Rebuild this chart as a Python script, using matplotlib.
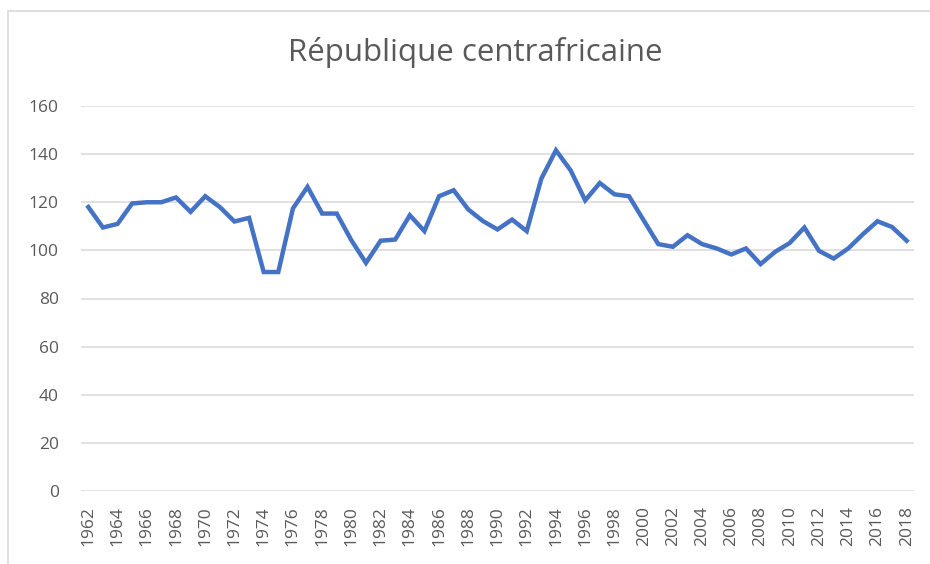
import matplotlib.pyplot as plt
from matplotlib.patches import Rectangle

plt.rcParams['font.family'] = ['Open Sans', 'DejaVu Sans']

# Years and values.
years = list(range(1962, 2019))
values = [
    118, 109.5, 111, 119.5, 120, 120, 122, 116, 122.5, 118,
    112, 113.5, 91, 91, 117.4, 126.4, 115.3, 115.3, 104.2, 94.8,
    104, 104.5, 114.6, 108, 122.5, 125, 117, 112.2, 108.7, 112.8,
    108, 129.8, 141.6, 133.3, 120.8, 128, 123.3, 122.5, 112.5, 102.6,
    101.5, 106.3, 102.6, 100.8, 98.3, 100.8, 94.3, 99.4, 103.1, 109.5,
    99.8, 96.6, 100.8, 106.7, 112.1, 109.7, 104,
]
y_ticks = [0, 20, 40, 60, 80, 100, 120, 140, 160]
x_ticks = years[::2]

figure = plt.figure(figsize=(9.3, 5.64), dpi=100)
axes = figure.add_axes([81 / 930, 1 - 491 / 564, 833 / 930, 385 / 564])

# Outer chart border (Excel style).
figure.patches.append(Rectangle((8 / 930, -0.1), 1.2, 1 - 11 / 564 + 0.1,
                                transform=figure.transFigure, fill=False,
                                edgecolor='#d9d9d9', linewidth=1.2))

axes.plot(years, values, color='#4472C4', linewidth=3.2, solid_joinstyle='miter')

axes.set_xlim(1961.5, 2018.5)
axes.set_ylim(0, 160)
axes.set_yticks(y_ticks)
axes.set_xticks(x_ticks)
axes.set_xticklabels([str(y) for y in x_ticks], rotation=90)
axes.grid(axis='y', color='#d9d9d9', linewidth=1.1)
axes.set_axisbelow(True)
for side in ['top', 'right', 'left', 'bottom']:
    axes.spines[side].set_visible(False)
axes.tick_params(axis='both', length=0, colors='#595959', labelsize=12.5)
axes.tick_params(axis='y', pad=16)
axes.tick_params(axis='x', pad=11)

figure.text(475 / 930, 1 - 52 / 564, 'République centrafricaine', ha='center', va='center',
            fontsize=22.5, color='#595959')

figure.savefig('out.png', dpi=100)
